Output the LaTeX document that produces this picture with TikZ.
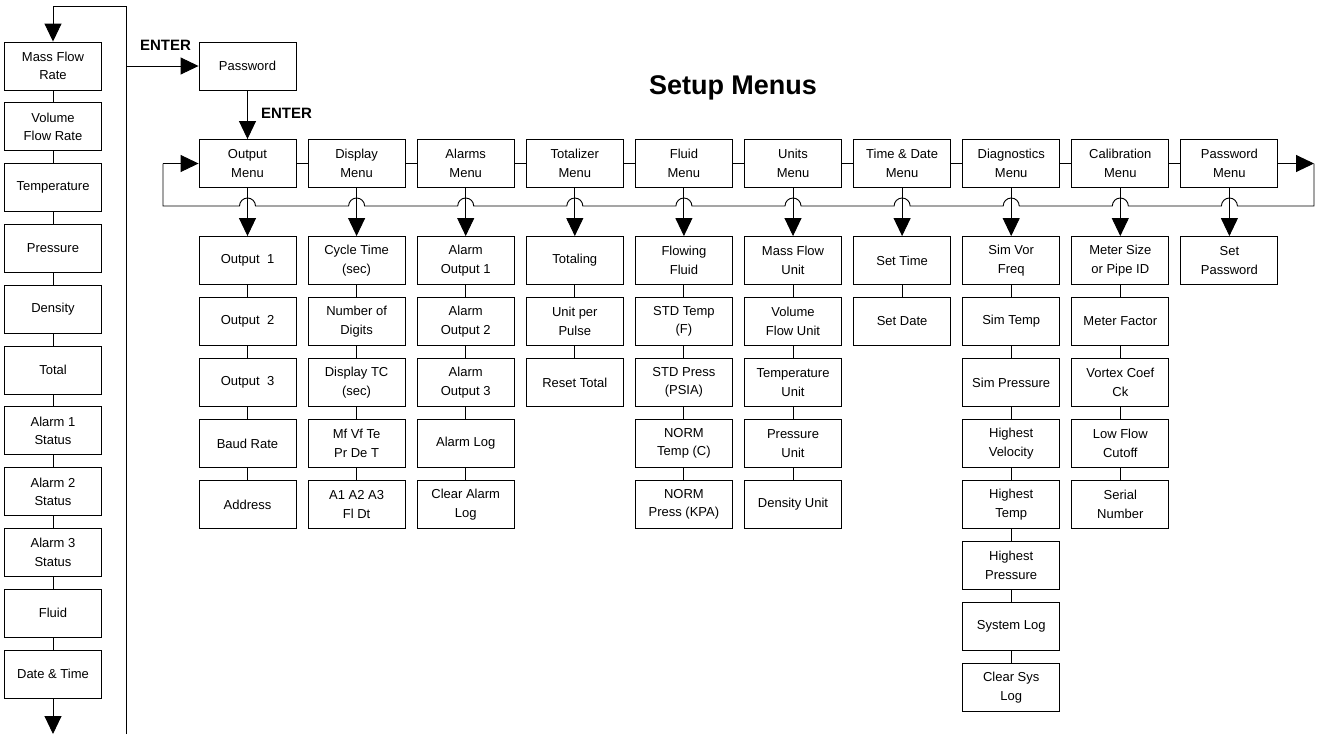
\documentclass[tikz,border=0pt]{standalone}
\usepackage{fontspec}
\setmainfont{Liberation Sans}
\usetikzlibrary{arrows.meta, calc}

\begin{document}
\begin{tikzpicture}[x=1pt, y=-1pt,
    >={Triangle[length=18pt,width=17pt]},
    box/.style={draw, line width=0.9pt, minimum width=97pt, minimum height=48pt,
      inner sep=0pt, align=center, font=\fontsize{13}{18.5}\selectfont},
    link/.style={line width=0.9pt},
    arr/.style={link, ->},
    lbl/.style={font=\fontsize{15}{18}\selectfont\bfseries}
  ]
  \useasboundingbox (0,0) rectangle (1324,734);

  % title
  \node[font=\fontsize{27}{32}\selectfont\bfseries] (title) at (733,87.5) {Setup Menus};

  % display list on the left
  \foreach \t [count=\k] in {{Mass Flow\\Rate},{Volume\\Flow Rate},Temperature,Pressure,Density,Total,
      {Alarm 1\\Status},{Alarm 2\\Status},{Alarm 3\\Status},Fluid,{Date \& Time}}
    \node[box] (l\k) at (53,{66+60.8*(\k-1)}) {\t};
  \foreach \k [remember=\k as \j (initially 1)] in {2,...,11}
    \draw[link] (l\j.south) -- (l\k.north);

  \coordinate (tl)  at (53,6);
  \coordinate (tr)  at (126,6);
  \coordinate (br)  at (126,734);
  \coordinate (ent) at (126,66);
  \coordinate (bot) at (53,734);
  \draw[link] (br) -- (tr) -- (tl);
  \draw[arr] (tl) -- (l1.north);
  \draw[arr] (l11.south) -- (bot);

  % password entry
  \node[box] (pw) at (247.5,66) {Password};
  \draw[arr] (ent) -- (pw.west);
  \node[lbl] (enter1) at (165.5,45.5) {ENTER};
  \node[lbl] (enter2) at (286.5,113.5) {ENTER};

  % top menus
  \foreach \t [count=\c] in {{Output\\Menu},{Display\\Menu},{Alarms\\Menu},{Totalizer\\Menu},
      {Fluid\\Menu},{Units\\Menu},{Time \& Date\\Menu},{Diagnostics\\Menu},{Calibration\\Menu},{Password\\Menu}}
    \node[box] (m\c) at ({247.5+109.1*(\c-1)},163.5) {\t};
  \foreach \c [remember=\c as \j (initially 1)] in {2,...,10}
    \draw[link] (m\j.east) -- (m\c.west);
  \draw[arr] (pw.south) -- (m1.north);

  % sub menus
  \foreach \c/\lst in {
      1/{{Output~ 1},{Output~ 2},{Output~ 3},{Baud Rate},Address},
      2/{{Cycle Time\\(sec)},{Number of\\Digits},{Display TC\\(sec)},{Mf Vf Te\\Pr De T},{A1 A2 A3\\Fl Dt}},
      3/{{Alarm\\Output 1},{Alarm\\Output 2},{Alarm\\Output 3},{Alarm Log},{Clear Alarm\\Log}},
      4/{Totaling,{Unit per\\Pulse},{Reset Total}},
      5/{{Flowing\\Fluid},{STD Temp\\(F)},{STD Press\\(PSIA)},{NORM\\Temp (C)},{NORM\\Press (KPA)}},
      6/{{Mass Flow\\Unit},{Volume\\Flow Unit},{Temperature\\Unit},{Pressure\\Unit},{Density Unit}},
      7/{{Set Time},{Set Date}},
      8/{{Sim Vor\\Freq},{Sim Temp},{Sim Pressure},{Highest\\Velocity},{Highest\\Temp},{Highest\\Pressure},{System Log},{Clear Sys\\Log}},
      9/{{Meter Size\\or Pipe ID},{Meter Factor},{Vortex Coef\\Ck},{Low Flow\\Cutoff},{Serial\\Number}},
      10/{{Set\\Password}}} {
    \foreach \t [count=\k] in \lst {
      \node[box] (s\c-\k) at ({247.5+109.1*(\c-1)},{260.5+61*(\k-1)}) {\t};
      \ifnum\k>1
        \pgfmathtruncatemacro\j{\k-1}
        \draw[link] (s\c-\j.south) -- (s\c-\k.north);
      \fi
    }
    \draw[arr] (m\c.south) -- (s\c-1.north);
  }

  % return loop with hops
  \coordinate (rt) at (1314,163.5);
  \coordinate (rb) at (1314,206);
  \coordinate (lb) at (163,206);
  \coordinate (lt) at (163,163.5);
  \draw[arr] (m10.east) -- (rt);
  \draw[link] (rt) -- (rb)
    foreach \c in {10,9,...,1} { -- ($(m\c.south |- rb)+(8,0)$) arc (0:-180:8) }
    -- (lb) -- (lt);
  \draw[arr] (lt) -- (m1.west);
\end{tikzpicture}
\end{document}
